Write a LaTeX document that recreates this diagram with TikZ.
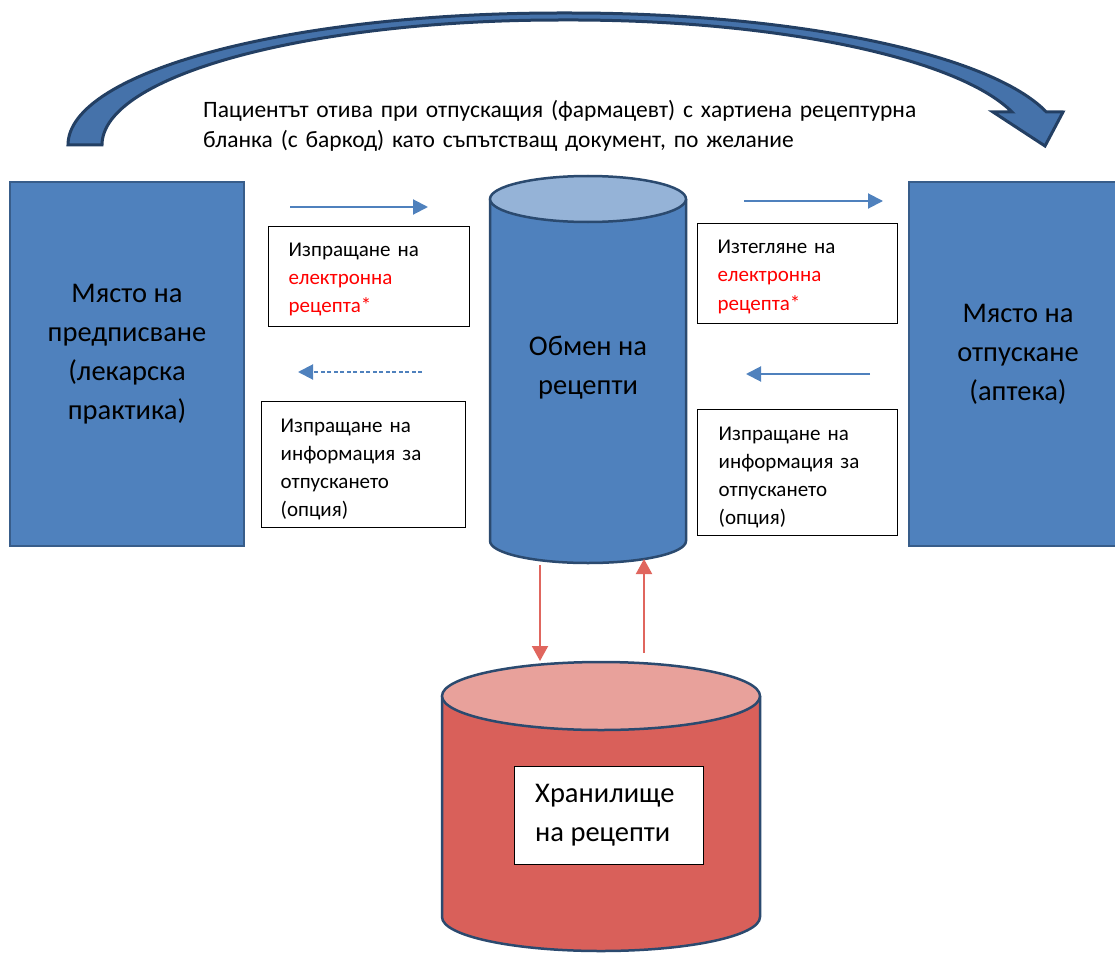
\documentclass[tikz,border=0pt]{standalone}
\usepackage{fontspec}
\setmainfont{Carlito}
\usetikzlibrary{arrows.meta,calc}

\definecolor{boxblue}{HTML}{4F81BD}
\definecolor{boxedge}{HTML}{385D8A}
\definecolor{arcfill}{HTML}{4572AA}
\definecolor{arcedge}{HTML}{233F63}
\definecolor{cyltop}{HTML}{95B3D7}
\definecolor{cyledge}{HTML}{2B4A6F}
\definecolor{redbody}{HTML}{D9605A}
\definecolor{redtop}{HTML}{E8A19B}
\definecolor{redline}{HTML}{E0665E}
\definecolor{txtred}{HTML}{FF0000}

\tikzset{
  place/.style={fill=boxblue, draw=boxedge, line width=2.5pt, minimum width=234, minimum height=364, inner sep=0},
  bigtext/.style={align=center, font=\fontsize{28.5}{39}\selectfont, inner sep=0},
  smalltext/.style={align=left, font=\fontsize{21}{28.3}\selectfont, inner sep=0, anchor=north west},
  labelbox/.style={draw=black, line width=1pt, fill=white, inner sep=0},
  bluearrow/.style={draw=boxblue, line width=2pt, -{Triangle[length=15,width=15]}},
  redarrow/.style={draw=redline, line width=2pt, -{Triangle[length=15,width=16]}},
  cylline/.style={draw=cyledge, line width=2.5pt},
}

\begin{document}
\begin{tikzpicture}[x=1pt,y=-1pt]
\useasboundingbox (0,0) rectangle (1115,952);
\clip (0,0) rectangle (1115,952);

% curved arrow over the top
\filldraw[fill=arcfill, draw=arcedge, line width=3pt, line join=miter]
  (68,145) arc[start angle=180, end angle=270, x radius=492, y radius=132]
  -- (570,13) arc[start angle=270, end angle=345.5, x radius=492, y radius=132]
  -- (1063,112) -- (1045,146) -- (993,112) -- (1012,112)
  arc[start angle=344.7, end angle=270, x radius=458, y radius=125]
  -- (560,20) arc[start angle=270, end angle=180, x radius=458, y radius=125]
  -- cycle;
\node[smalltext, font=\fontsize{23.5}{30}\selectfont, text width=800] (patient) at (203,96)
  {\strut Пациентът отива при отпускащия (фармацевт) с хартиена рецептурна\\
   бланка (с баркод) като съпътстващ документ, по желание};

% prescribing and dispensing places
\node[place] (prescriber) at (127,364) {};
\node[bigtext] at (127,354) {Място на\\предписване\\(лекарска\\практика)};
\node[place] (pharmacy) at (1026,364) {};
\node[bigtext] at (1018,354) {Място на\\отпускане\\(аптека)};

% exchange cylinder
\fill[boxblue] (490,199) -- (490,541) arc[start angle=180, end angle=0, x radius=98, y radius=22]
  -- (686,199) -- cycle;
\draw[cylline] (490,199) -- (490,541) arc[start angle=180, end angle=0, x radius=98, y radius=22]
  -- (686,199);
\filldraw[fill=cyltop, cylline] (588,199) ellipse[x radius=98, y radius=23];
\node[bigtext] (exchange) at (588,368) {Обмен на\\рецепти};

% storage cylinder
\fill[redbody] (442,696) -- (442,917) arc[start angle=180, end angle=0, x radius=159, y radius=34]
  -- (760,696) -- cycle;
\draw[cylline] (442,696) -- (442,917) arc[start angle=180, end angle=0, x radius=159, y radius=34]
  -- (760,696);
\filldraw[fill=redtop, cylline] (601,696) ellipse[x radius=159, y radius=34];
\node[labelbox, minimum width=189, minimum height=98] (storebox) at (608.5,815) {};
\node[bigtext, align=left, anchor=west] (storage) at (535,815) {Хранилище\\на рецепти};

% label boxes beside the exchange
\node[labelbox, minimum width=201, minimum height=100] (sendbox) at (368.5,276) {};
\node[smalltext, text width=180] (sendtxt) at ($(sendbox.north west)+(21,10.5)$)
  {\strut Изпращане на\\\textcolor{txtred}{електронна}\\\textcolor{txtred}{рецепта*}};
\node[labelbox, minimum width=204, minimum height=126] (infoL) at (363,464) {};
\node[smalltext, text width=180] (infoLtxt) at ($(infoL.north west)+(20,11.5)$)
  {\strut Изпращане на\\информация за\\отпускането\\(опция)};
\node[labelbox, minimum width=200, minimum height=100] (pullbox) at (797,273) {};
\node[smalltext, text width=175] (pulltxt) at ($(pullbox.north west)+(21,11)$)
  {\strut Изтегляне на\\\textcolor{txtred}{електронна}\\\textcolor{txtred}{рецепта*}};
\node[labelbox, minimum width=200, minimum height=126] (infoR) at (797,472) {};
\node[smalltext, text width=175] (infoRtxt) at ($(infoR.north west)+(22,11.5)$)
  {\strut Изпращане на\\информация за\\отпускането\\(опция)};

% flow arrows
\coordinate (a1s) at (290,207); \coordinate (a1e) at (428,207);
\coordinate (a2s) at (422,372); \coordinate (a2e) at (298,372);
\coordinate (a3s) at (744,201); \coordinate (a3e) at (883,201);
\coordinate (a4s) at (870,374); \coordinate (a4e) at (746,374);
\draw[bluearrow] (a1s) -- (a1e);
\draw[bluearrow, dash pattern=on 4pt off 2.5pt] (a2s) -- (a2e);
\draw[bluearrow] (a3s) -- (a3e);
\draw[bluearrow] (a4s) -- (a4e);

% exchange <-> storage
\coordinate (d1s) at (540,565); \coordinate (d1e) at (540,661);
\coordinate (d2s) at (644,653); \coordinate (d2e) at (644,559);
\draw[redarrow] (d1s) -- (d1e);
\draw[redarrow] (d2s) -- (d2e);
\end{tikzpicture}
\end{document}
